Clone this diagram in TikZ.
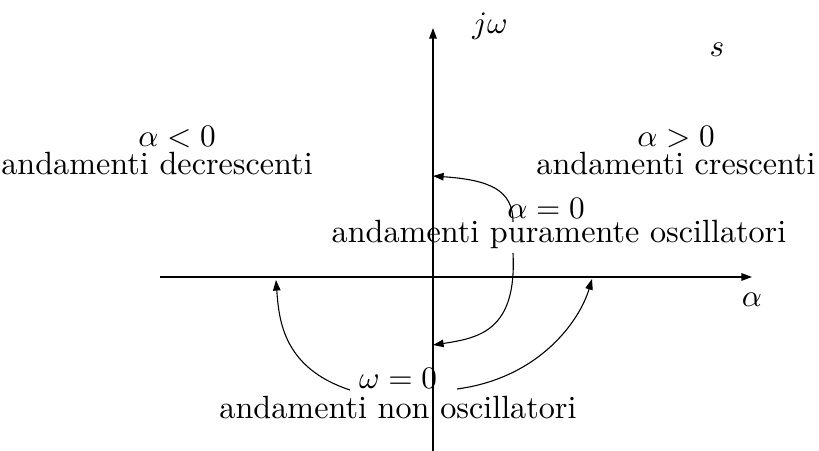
\documentclass[tikz,border=0pt]{standalone}
\usetikzlibrary{arrows.meta}
\begin{document}
\begin{tikzpicture}[x=0.32pt,y=-0.32pt,
  axis/.style={line width=0.45pt,-{Triangle[length=3.4pt,width=2.4pt]}},
  curve/.style={line width=0.35pt,-{Triangle[length=3.4pt,width=2.4pt]}},
  lbl/.style={inner sep=0pt,align=center,font=\fontsize{10.3}{12}\selectfont}]
\useasboundingbox (0,0) rectangle (819,451);
% axes
\coordinate (xs) at (160,277);
\coordinate (xe) at (752,277);
\coordinate (ys) at (433,451);
\coordinate (ye) at (433,28);
\draw[axis] (xs) -- (xe);
\draw[axis] (ys) -- (ye);
% labels
\node[lbl] (jw) at (490,26) {$j\omega$};
\node[lbl] (s) at (717,50) {$s$};
\node[lbl] (al) at (752,300) {$\alpha$};
\node[lbl] (neg) at (177,137) {$\alpha<0$};
\node[lbl] (negt) at (157,164) {andamenti decrescenti};
\node[lbl] (pos) at (676,137) {$\alpha>0$};
\node[lbl] (post) at (676,164) {andamenti crescenti};
\node[lbl] (zer) at (546,208) {$\alpha=0$};
\node[lbl] (zert) at (559,234) {andamenti puramente oscillatori};
\node[lbl] (om) at (398,378) {$\omega=0$};
\node[lbl] (omt) at (398,408) {andamenti non oscillatori};
% connector end points
\coordinate (c1s) at (513,222);
\coordinate (c1e) at (433,176);
\coordinate (c2s) at (513,253);
\coordinate (c2e) at (433,345);
\coordinate (c3s) at (350,390);
\coordinate (c3e) at (276,280);
\coordinate (c4s) at (457,389);
\coordinate (c4e) at (592,279);
% curves
\draw[curve] (c1s) .. controls (513,190) and (490,180) .. (c1e);
\draw[curve] (c2s) .. controls (517,330) and (480,338) .. (c2e);
\draw[curve] (c3s) .. controls (283,368) and (279,320) .. (c3e);
\draw[curve] (c4s) .. controls (540,378) and (580,320) .. (c4e);
\end{tikzpicture}
\end{document}
